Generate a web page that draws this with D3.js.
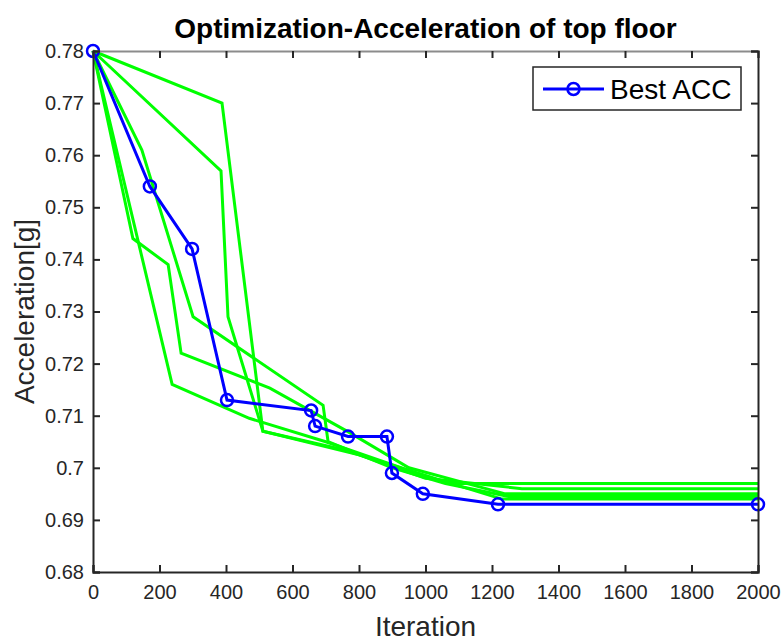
<!DOCTYPE html>
<html>
<head>
<meta charset="utf-8">
<script src="https://cdn.jsdelivr.net/npm/d3@7"></script>
<style>
  body { margin: 0; background: #fff; }
  svg text { font-family: "Liberation Sans", Arial, Helvetica, sans-serif; }
</style>
</head>
<body>
<div id="chart"></div>
<script>
// best-of-all curve
const bestIter = [0, 171, 298, 403, 656, 668, 767, 884, 899, 992, 1218, 2000];
const bestAcc = [0.78, 0.754, 0.742, 0.713, 0.711, 0.708, 0.706, 0.706, 0.699, 0.695, 0.693, 0.693];

// individual runs (green)
const run1Iter = [0, 388, 511, 750, 950, 1070, 2000];
const run1Acc = [0.78, 0.770, 0.707, 0.7035, 0.6995, 0.697, 0.697];
const run2Iter = [0, 385, 406, 511, 800, 1000, 1290, 2000];
const run2Acc = [0.78, 0.757, 0.729, 0.707, 0.7025, 0.698, 0.696, 0.696];
const run3Iter = [0, 120, 226, 265, 532, 773, 950, 1240, 2000];
const run3Acc = [0.78, 0.744, 0.739, 0.722, 0.7153, 0.7067, 0.700, 0.695, 0.695];
const run4Iter = [0, 238, 470, 700, 950, 1230, 2000];
const run4Acc = [0.78, 0.716, 0.7095, 0.705, 0.6995, 0.694, 0.694];
const run5Iter = [0, 147, 301, 692, 707, 900, 1060, 1250, 2000];
const run5Acc = [0.78, 0.761, 0.729, 0.712, 0.705, 0.700, 0.697, 0.6945, 0.6945];

const xTicks = [0, 200, 400, 600, 800, 1000, 1200, 1400, 1600, 1800, 2000];
const yTicks = [0.68, 0.69, 0.70, 0.71, 0.72, 0.73, 0.74, 0.75, 0.76, 0.77, 0.78];

const titleText = 'Optimization-Acceleration of top floor';
const xLabel = 'Iteration';
const yLabel = 'Acceleration[g]';
const legendLabel = 'Best ACC';

const W = 781, H = 638;
const margin = { t: 51, r: 23, b: 66, l: 93 };
const w = W - margin.l - margin.r;
const h = H - margin.t - margin.b;

const x = d3.scaleLinear().domain([0, 2000]).range([0, w]);
const y = d3.scaleLinear().domain([0.68, 0.78]).range([h, 0]);

const svg = d3.select('#chart').append('svg')
  .attr('width', W)
  .attr('height', H);

const g = svg.append('g')
  .attr('transform', `translate(${margin.l}, ${margin.t})`);

const axisColor = '#262626';
const tickLen = 7;

// green runs
const line = d3.line()
  .x(d => x(d[0]))
  .y(d => y(d[1]));

const runs = [
  [run1Iter, run1Acc],
  [run2Iter, run2Acc],
  [run3Iter, run3Acc],
  [run4Iter, run4Acc],
  [run5Iter, run5Acc]
].map(([xs, ys]) => xs.map((v, i) => [v, ys[i]]));

g.selectAll('.run')
  .data(runs)
  .enter().append('path')
  .attr('class', 'run')
  .attr('fill', 'none')
  .attr('stroke', '#00ff00')
  .attr('stroke-width', 3)
  .attr('d', line);

// best line
const best = bestIter.map((v, i) => [v, bestAcc[i]]);
g.append('path')
  .datum(best)
  .attr('fill', 'none')
  .attr('stroke', '#0000ff')
  .attr('stroke-width', 3)
  .attr('d', line);

g.selectAll('.pt')
  .data(best)
  .enter().append('circle')
  .attr('class', 'pt')
  .attr('cx', d => x(d[0]))
  .attr('cy', d => y(d[1]))
  .attr('r', 6)
  .attr('fill', 'none')
  .attr('stroke', '#0000ff')
  .attr('stroke-width', 2.5);

// axes box (MATLAB style, ticks inside)
const xAxisB = d3.axisBottom(x).tickValues(xTicks).tickSize(-tickLen).tickPadding(13)
  .tickFormat(d3.format('d'));
const xAxisT = d3.axisTop(x).tickValues(xTicks).tickSize(-tickLen).tickFormat('');
const yAxisL = d3.axisLeft(y).tickValues(yTicks).tickSize(-tickLen).tickPadding(9)
  .tickFormat(d => d3.format('.2f')(d).replace(/0$/, ''));
const yAxisR = d3.axisRight(y).tickValues(yTicks).tickSize(-tickLen).tickFormat('');

function styleAxis(sel, col) {
  sel.select('.domain').attr('stroke', col).attr('stroke-width', 2);
  sel.selectAll('.tick line').attr('stroke', axisColor).attr('stroke-width', 2);
  sel.selectAll('.tick text')
    .attr('fill', axisColor)
    .style('font-size', '20px');
}

g.append('g')
  .call(xAxisT)
  .call(s => styleAxis(s, '#8c8c8c'));

g.append('g')
  .attr('transform', `translate(${w}, 0)`)
  .call(yAxisR)
  .call(s => styleAxis(s, axisColor));

g.append('g')
  .attr('transform', `translate(0, ${h})`)
  .call(xAxisB)
  .call(s => styleAxis(s, axisColor));

g.append('g')
  .call(yAxisL)
  .call(s => styleAxis(s, axisColor));

// titles
svg.append('text')
  .attr('x', margin.l + w / 2)
  .attr('y', 38)
  .attr('text-anchor', 'middle')
  .attr('fill', '#000')
  .style('font-size', '28px')
  .style('font-weight', 'bold')
  .text(titleText);

svg.append('text')
  .attr('x', margin.l + w / 2)
  .attr('y', 636)
  .attr('text-anchor', 'middle')
  .attr('fill', axisColor)
  .style('font-size', '28px')
  .text(xLabel);

svg.append('text')
  .attr('transform', `translate(34, ${margin.t + h / 2}) rotate(-90)`)
  .attr('text-anchor', 'middle')
  .attr('fill', axisColor)
  .style('font-size', '28px')
  .text(yLabel);

// legend
const lg = svg.append('g').attr('transform', 'translate(533, 67)');
lg.append('rect')
  .attr('width', 208)
  .attr('height', 43)
  .attr('fill', '#fff')
  .attr('stroke', axisColor)
  .attr('stroke-width', 1.5);
lg.append('line')
  .attr('x1', 10).attr('x2', 71)
  .attr('y1', 22).attr('y2', 22)
  .attr('stroke', '#0000ff')
  .attr('stroke-width', 3);
lg.append('circle')
  .attr('cx', 40.5).attr('cy', 22).attr('r', 6)
  .attr('fill', 'none')
  .attr('stroke', '#0000ff')
  .attr('stroke-width', 2.5);
lg.append('text')
  .attr('x', 77).attr('y', 32)
  .attr('fill', '#000')
  .style('font-size', '28px')
  .text(legendLabel);
</script>
</body>
</html>
